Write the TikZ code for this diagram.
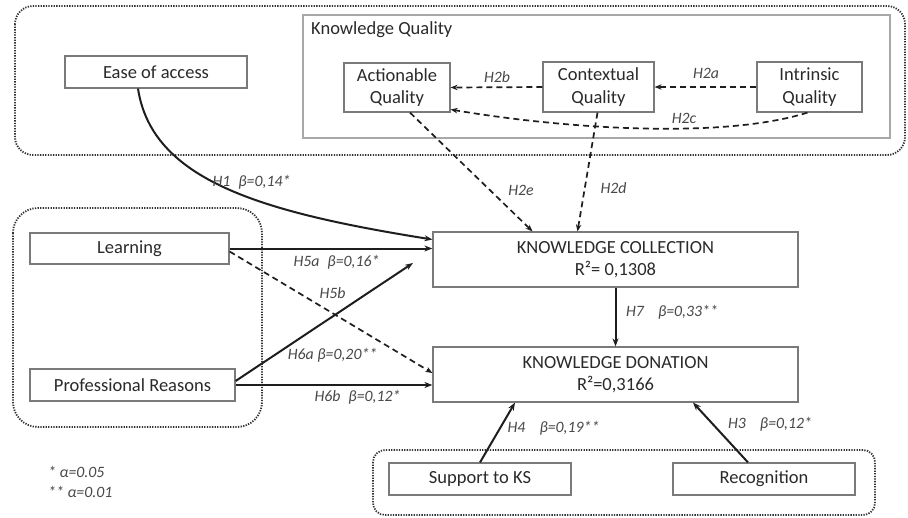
\documentclass[tikz,border=0pt]{standalone}
\usepackage{fontspec}
\setmainfont{Carlito}
\usetikzlibrary{arrows.meta,calc}
\definecolor{boxgray}{HTML}{7A7A7A}
\definecolor{txt}{HTML}{2A2A2A}
\definecolor{lblc}{HTML}{484848}
\definecolor{lc}{HTML}{1E1E1E}
\definecolor{grpc}{HTML}{333333}
\definecolor{kqc}{HTML}{A8A8A8}
\begin{document}
\begin{tikzpicture}[x=1pt,y=-1pt,
  box/.style={draw=boxgray,line width=1.2pt,rectangle,inner sep=0pt,align=center,text=txt,font=\fontsize{18.5}{22.5}\selectfont},
  lbl/.style={text=lblc,font=\fontsize{15.8}{18}\selectfont\itshape,inner sep=0pt},
  conn/.style={draw=lc,line width=2pt,-{Stealth[length=8pt,width=6pt]}},
  dconn/.style={draw=lc,line width=1.7pt,dash pattern=on 6pt off 4pt,-{Stealth[length=7pt,width=5.5pt]}},
  grp/.style={draw=grpc,line width=1.8pt,dash pattern=on 1.3pt off 1.3pt}
]
\useasboundingbox[fill=white] (0,0) rectangle (908,517);

% group regions
\draw[grp,rounded corners=18pt] (15,6) rectangle (905,155);
\draw[grp,rounded corners=25pt] (13,208) rectangle (262,427);
\draw[grp,rounded corners=12pt] (373,450) rectangle (875,515);
\draw[draw=kqc,line width=1.2pt] (303,15) rectangle (890,138);
\node[anchor=west,text=txt,font=\fontsize{18.5}{22}\selectfont,inner sep=0pt] (kqt) at (311,30) {Knowledge Quality};

% boxes
\node[box,minimum width=182pt,minimum height=32pt] (ease) at (156,72) {Ease of access};
\node[box,minimum width=106pt,minimum height=49pt] (act) at (397,87.5) {Actionable\\Quality};
\node[box,minimum width=111pt,minimum height=50pt] (ctx) at (598.5,87) {Contextual\\Quality};
\node[box,minimum width=105pt,minimum height=50pt] (intr) at (809.5,87) {Intrinsic\\Quality};
\node[box,minimum width=365pt,minimum height=55pt] (kc) at (615.5,259.5) {KNOWLEDGE COLLECTION\\R²= 0,1308};
\node[box,minimum width=365pt,minimum height=55pt] (kd) at (615.5,374.5) {KNOWLEDGE DONATION\\R²=0,3166};
\node[box,minimum width=199pt,minimum height=31pt] (learn) at (129.5,248.5) {Learning};
\node[box,minimum width=205pt,minimum height=32pt] (prof) at (132.5,385) {Professional Reasons};
\node[box,minimum width=182pt,minimum height=32pt] (supp) at (480,479) {Support to KS};
\node[box,minimum width=182pt,minimum height=32pt] (recog) at (764,479) {Recognition};
\coordinate (h6aend) at (413,263);

% connectors
\draw[dconn] (ctx.west) -- (act.east);
\draw[dconn] (intr.west) -- (ctx.east);
\draw[dconn] ([xshift=-2pt]intr.south) .. controls (720,140) and (560,128) .. ([yshift=-22pt]act.east);
\draw[dconn] ([xshift=13pt]act.south) -- ([xshift=-83pt]kc.north);
\draw[dconn] ([xshift=-1pt]ctx.south) -- ([xshift=-38pt]kc.north);
\draw[conn] ([xshift=-18pt]ease.south) .. controls (152,180) and (260,212) .. ([yshift=20pt]kc.west);
\draw[conn] (learn.east) -- (kc.west |- learn.east);
\draw[dconn] ([yshift=-3pt]learn.east) -- ([yshift=1.5pt]kd.west);
\draw[conn] ([yshift=4pt]prof.east) -- (h6aend);
\draw[conn] (prof.east) -- (kd.west |- prof.east);
\draw[conn] (kc.south) -- (kd.north);
\draw[conn] (supp.north) -- ([xshift=-100.5pt]kd.south);
\draw[conn] ([xshift=-16pt]recog.north) -- ([xshift=77.5pt]kd.south);

% labels
\node[lbl] (l2b) at (497,77) {H2b};
\node[lbl] (l2a) at (706,73) {H2a};
\node[lbl] (l2c) at (684,118) {H2c};
\node[lbl] (l2e) at (521,190) {H2e};
\node[lbl] (l2d) at (613.5,188) {H2d};
\node[lbl] (l1) at (251.5,182) {H1\enspace β=0,14*};
\node[lbl] (l5a) at (336.5,262) {H5a\enspace β=0,16*};
\node[lbl] (l5b) at (332.5,293) {H5b};
\node[lbl] (l6a) at (332.5,355) {H6a β=0,20**};
\node[lbl] (l6b) at (357.5,397) {H6b\enspace β=0,12*};
\node[lbl] (l7) at (672,312) {H7\enspace\, β=0,33**};
\node[lbl] (l4) at (553.5,428) {H4\enspace\, β=0,19**};
\node[lbl] (l3) at (770,424) {H3\enspace\, β=0,12*};
\node[lbl,anchor=west] (leg1) at (48,472) {* α=0.05};
\node[lbl,anchor=west] (leg2) at (48,492) {** α=0.01};
\end{tikzpicture}
\end{document}
